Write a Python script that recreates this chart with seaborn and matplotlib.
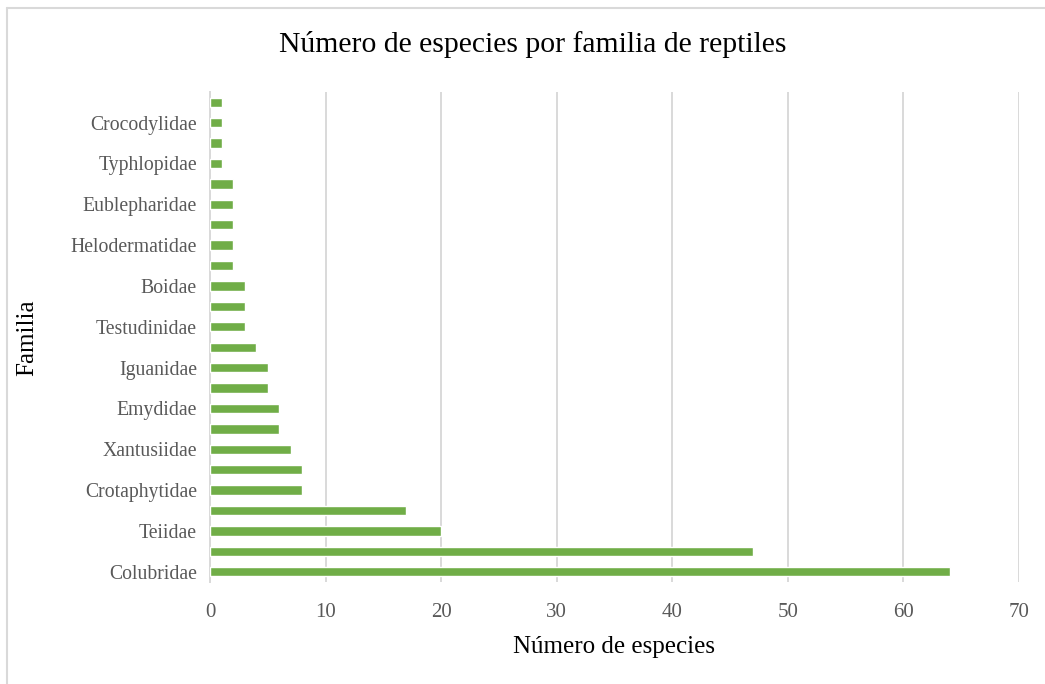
import matplotlib
matplotlib.use("Agg")
import matplotlib.pyplot as plt
from matplotlib.lines import Line2D
import seaborn as sns
import pandas as pd

# Reptile families, ordered from the largest count (bottom) upward
familias = [
    "Colubridae", "Phrynosomatidae", "Teiidae", "Viperidae",
    "Crotaphytidae", "Scincidae", "Xantusiidae", "Anguidae",
    "Emydidae", "Kinosternidae", "Iguanidae", "Gekkonidae",
    "Testudinidae", "Leptotyphlopidae", "Boidae", "Elapidae",
    "Helodermatidae", "Dactyloidae", "Eublepharidae", "Cheloniidae",
    "Typhlopidae", "Dermochelyidae", "Crocodylidae", "Trionychidae",
]
especies = [64, 47, 20, 17, 8, 8, 7, 6, 6, 5, 5, 4,
            3, 3, 3, 2, 2, 2, 2, 2, 1, 1, 1, 1]
xticks = [0, 10, 20, 30, 40, 50, 60, 70]

titulo = "Número de especies por familia de reptiles"
etiqueta_x = "Número de especies"
etiqueta_y = "Familia"

df = pd.DataFrame({"Familia": familias, "Especies": especies})
# Largest family at the bottom
orden = familias[::-1]

sns.set_theme(style="white")
plt.rcParams["font.family"] = ["Liberation Serif", "DejaVu Serif"]

fig = plt.figure(figsize=(10.45, 6.84), dpi=100)
ax = fig.add_axes([210 / 1045, 1 - 582 / 684, (1019 - 210) / 1045, (582 - 92) / 684])

sns.barplot(data=df, x="Especies", y="Familia", order=orden,
            color="#70AD47", saturation=1, width=0.46, ax=ax, zorder=3)

ax.set_xlim(0, 70)
ax.set_xticks(xticks)
ax.grid(axis="x", color="#d9d9d9", linewidth=1.4, zorder=0)
ax.grid(axis="y", visible=False)
for s in ["top", "right", "bottom"]:
    ax.spines[s].set_visible(False)
ax.spines["left"].set_color("#d9d9d9")
ax.spines["left"].set_linewidth(1.4)

# Only every other family name is shown on the axis
labels = [t.get_text() for t in ax.get_yticklabels()]
shown = [lab if (len(labels) - 1 - i) % 2 == 0 else "" for i, lab in enumerate(labels)]
ax.set_yticks(range(len(labels)))
ax.set_yticklabels(shown)

ax.tick_params(axis="y", length=0, labelsize=14.2, labelcolor="#595959", pad=9.5)
ax.tick_params(axis="x", length=0, labelsize=15, labelcolor="#595959", pad=15)

ax.set_xlabel(etiqueta_x, fontsize=18, color="black", va="center")
ax.set_ylabel(etiqueta_y, fontsize=18, color="black", va="center")
ax.xaxis.set_label_coords((614 - 210) / 809, (582 - 647) / 490)
ax.yaxis.set_label_coords((27 - 210) / 809, (582 - 338) / 490)
fig.text(533 / 1045, 1 - 45 / 684, titulo, fontsize=21.3, ha="center", va="center", color="black")

# Chart-area frame
fig.add_artist(Line2D([7 / 1045, 1], [1 - 8 / 684, 1 - 8 / 684], color="#d9d9d9", linewidth=1.5))
fig.add_artist(Line2D([7 / 1045, 7 / 1045], [0, 1 - 8 / 684], color="#d9d9d9", linewidth=1.5))

fig.savefig("out.png", dpi=100)
